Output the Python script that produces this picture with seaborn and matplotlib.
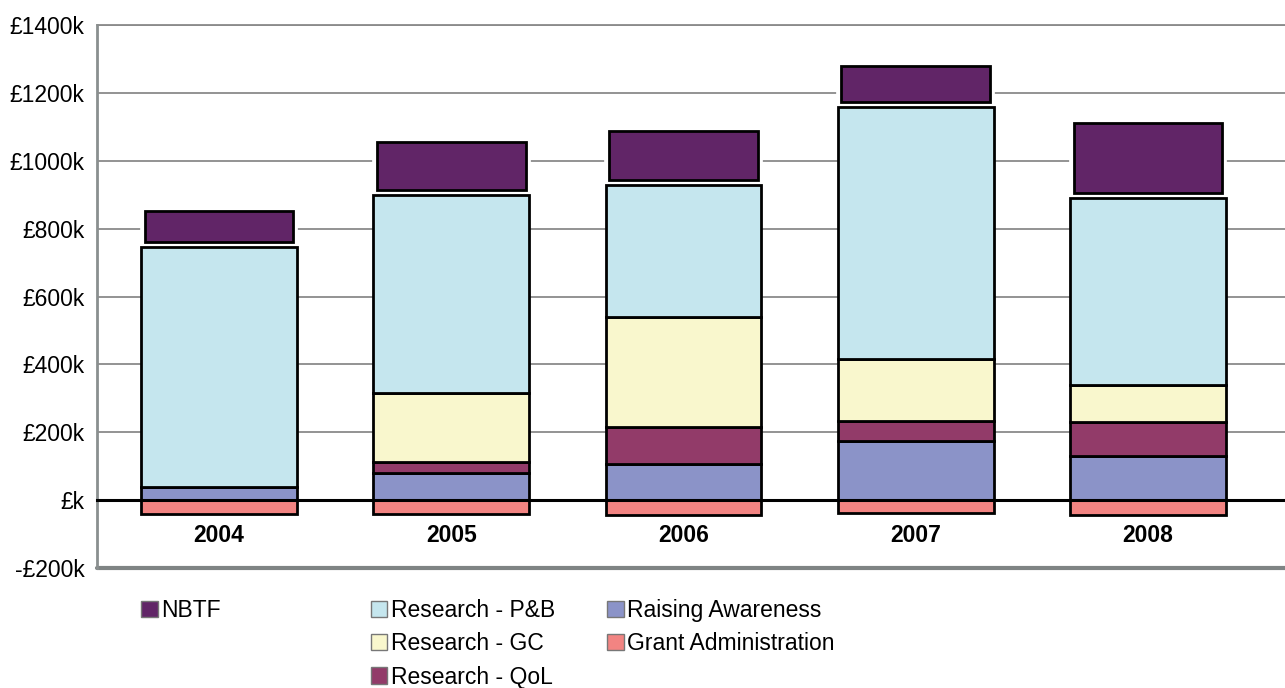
import matplotlib
matplotlib.use("Agg")
import matplotlib.pyplot as plt
import matplotlib.patheffects as pe
from matplotlib.patches import Patch
import numpy as np
import pandas as pd
import seaborn as sns

years = ["2004", "2005", "2006", "2007", "2008"]
grant_admin = [-41, -41, -44, -38, -44]
raising_awareness = [40, 80, 106, 174, 130]
research_qol = [0, 32, 109, 59, 100]
research_gc = [0, 203, 324, 182, 109]
research_pb = [705, 584, 389, 743, 551]
nbtf = [91, 141, 144, 107, 206]
y_ticks = [-200, 0, 200, 400, 600, 800, 1000, 1200, 1400]
y_labels = ["-£200k", "£k", "£200k", "£400k", "£600k", "£800k", "£1000k", "£1200k", "£1400k"]

colors = {
    "NBTF": "#612567",
    "Research - P&B": "#C5E6EE",
    "Research - GC": "#F9F7CD",
    "Research - QoL": "#923B69",
    "Raising Awareness": "#8B93C8",
    "Grant Administration": "#F28482",
}

sns.set_theme(style="white")
plt.rcParams["font.family"] = ["Liberation Sans", "DejaVu Sans"]
plt.rcParams["font.size"] = 16.5
plt.rcParams["text.color"] = "black"
plt.rcParams["xtick.color"] = "black"
plt.rcParams["ytick.color"] = "black"

FS = 16.5

fig = plt.figure(figsize=(12.85, 6.88), dpi=100)
ax = fig.add_axes([97 / 1285, 1 - 568 / 688, 1 - 97 / 1285, (568 - 25) / 688])

GAP = 15  # visual separation of NBTF block
W = 0.67
EDGE = dict(edgecolor="black", linewidth=2.0)

stack = [
    ("Raising Awareness", raising_awareness),
    ("Research - QoL", research_qol),
    ("Research - GC", research_gc),
    ("Research - P&B", research_pb),
]

df = pd.DataFrame({"year": years})
bottom = np.zeros(len(years))
for name, vals in stack:
    bottom = bottom + np.array(vals)
total = bottom.copy()

# NBTF block with white halo (drawn first)
df["NBTF"] = nbtf
sns.barplot(data=df, x="year", y="NBTF", ax=ax, color=colors["NBTF"], width=0.64,
            bottom=total + GAP, saturation=1, zorder=3, **EDGE)
for p in ax.patches:
    p.set_path_effects([pe.Stroke(linewidth=7, foreground="white"), pe.Normal()])

# Grant administration (negative)
df["Grant Administration"] = grant_admin
sns.barplot(data=df, x="year", y="Grant Administration", ax=ax,
            color=colors["Grant Administration"], width=W, saturation=1, zorder=3, **EDGE)

bottom = np.zeros(len(years))
for name, vals in stack:
    df[name] = vals
    sns.barplot(data=df, x="year", y=name, ax=ax, color=colors[name], width=W,
                bottom=bottom, saturation=1, zorder=3, **EDGE)
    bottom = bottom + np.array(vals)

ax.set_xlim(-0.525, 4.59)
ax.set_ylim(-200, 1400)
ax.set_xlabel("")
ax.set_ylabel("")

ax.set_yticks(y_ticks)
ax.set_yticklabels(y_labels, fontsize=FS, color="black")
ax.tick_params(axis="y", length=0, pad=9, labelsize=FS)
ax.yaxis.grid(True, color="#8a8a8a", linewidth=1.3, zorder=0)
ax.set_axisbelow(True)

ax.spines["top"].set_visible(False)
ax.spines["right"].set_visible(False)
ax.spines["left"].set_color("#8a8f8f")
ax.spines["left"].set_linewidth(2)
ax.spines["bottom"].set_position(("data", 0))
ax.spines["bottom"].set_color("black")
ax.spines["bottom"].set_linewidth(2.2)
ax.spines["bottom"].set_zorder(4)

ax.set_xticks(range(len(years)))
ax.set_xticklabels(years, fontsize=FS, fontweight="bold", color="black")
ax.tick_params(axis="x", which="major", length=0, pad=17)
ax.set_xticks(np.arange(-0.5, len(years), 1.0), minor=True)
ax.tick_params(axis="x", which="minor", length=4, width=1.2, direction="out", color="black")

ax.axhline(-200, color="#7f8484", linewidth=3, clip_on=False, zorder=1)
ax.axhline(1400, color="#8a8a8a", linewidth=1.3, clip_on=False, zorder=1)

def handle(name):
    return Patch(facecolor=colors[name], edgecolor="#777777", linewidth=1)

leg_kw = dict(frameon=False, fontsize=FS, handlelength=0.72, handleheight=0.72,
              handletextpad=0.15, borderpad=0, borderaxespad=0, labelspacing=0.45)
leg1 = fig.legend([handle("NBTF")], ["NBTF"], loc="upper left",
                  bbox_to_anchor=(141 / 1285, 1 - 599 / 688), **leg_kw)
names2 = ["Research - P&B", "Research - GC", "Research - QoL", "Raising Awareness", "Grant Administration"]
leg2 = fig.legend([handle(n) for n in names2], names2, loc="upper left", ncol=2,
                  columnspacing=2.27, bbox_to_anchor=(371 / 1285, 1 - 599 / 688), **leg_kw)
for t in list(leg1.get_texts()) + list(leg2.get_texts()):
    t.set_color("black")

fig.savefig("out.png", dpi=100)
